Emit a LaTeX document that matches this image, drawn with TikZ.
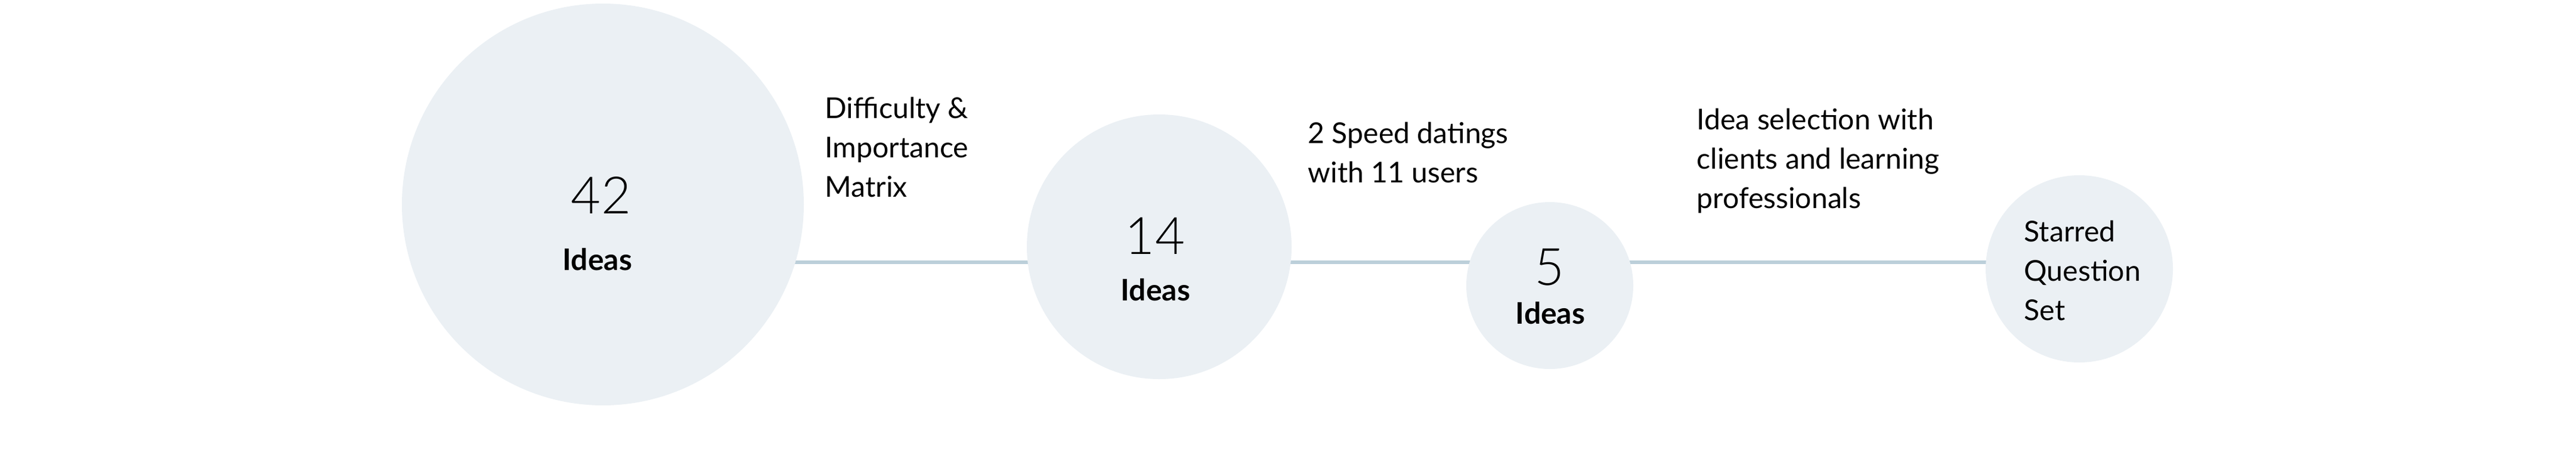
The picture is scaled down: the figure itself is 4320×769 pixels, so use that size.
\documentclass[tikz,border=0pt]{standalone}
\usepackage{fontspec}
\setmainfont{Lato}
\newfontfamily\lightfont{Lato}[UprightFont=* Light]
\usetikzlibrary{backgrounds}
\definecolor{bubble}{HTML}{EBF0F4}
\definecolor{linkc}{HTML}{BCCFDA}
\tikzset{
  bubblenode/.style={circle, fill=bubble, inner sep=0pt, draw=none},
  conn/.style={draw=linkc, line width=0.55mm},
  bignum/.style={font=\lightfont\fontsize{24.6pt}{28pt}\selectfont, inner sep=0pt, anchor=base},
  ideas/.style={font=\bfseries\fontsize{14.2pt}{17pt}\selectfont, inner sep=0pt, anchor=base},
  stepnote/.style={font=\fontsize{13.7pt}{18.78pt}\selectfont, inner sep=0pt, anchor=base west, align=left}
}
\begin{document}
\begin{tikzpicture}[x=0.1mm,y=-0.1mm]
\useasboundingbox (0,0) rectangle (4320,769);
\node[bubblenode, minimum size=67.4mm] (c1) at (1011,343) {};
\node[bubblenode, minimum size=44.4mm] (c2) at (1944,414) {};
\node[bubblenode, minimum size=28mm] (c3) at (2599,479) {};
\node[bubblenode, minimum size=31.4mm] (c4) at (3487,451) {};
\coordinate (ly) at (0,440);
\begin{pgfonlayer}{background}
\draw[conn] (c1.center |- ly) -- (c4.center |- ly);
\end{pgfonlayer}
\node[bignum] (n1) at (1008,358) {42};
\node[ideas] (i1) at (1002,453) {Ideas};
\node[bignum] (n2) at (1937,426) {14};
\node[ideas] (i2) at (1938,504) {Ideas};
\node[bignum] (n3) at (2599,478) {5};
\node[ideas] (i3) at (2600,543) {Ideas};
\node[stepnote] (t1) at (1383,330) {Difficulty \&\\Importance\\Matrix};
\node[stepnote] (t2) at (2193,306) {2 Speed datings\\with 11 users};
\node[stepnote] (t3) at (2845,349) {Idea selection with\\clients and learning\\professionals};
\node[stepnote] (t4) at (3394,537) {Starred\\Question\\Set};
\end{tikzpicture}
\end{document}
